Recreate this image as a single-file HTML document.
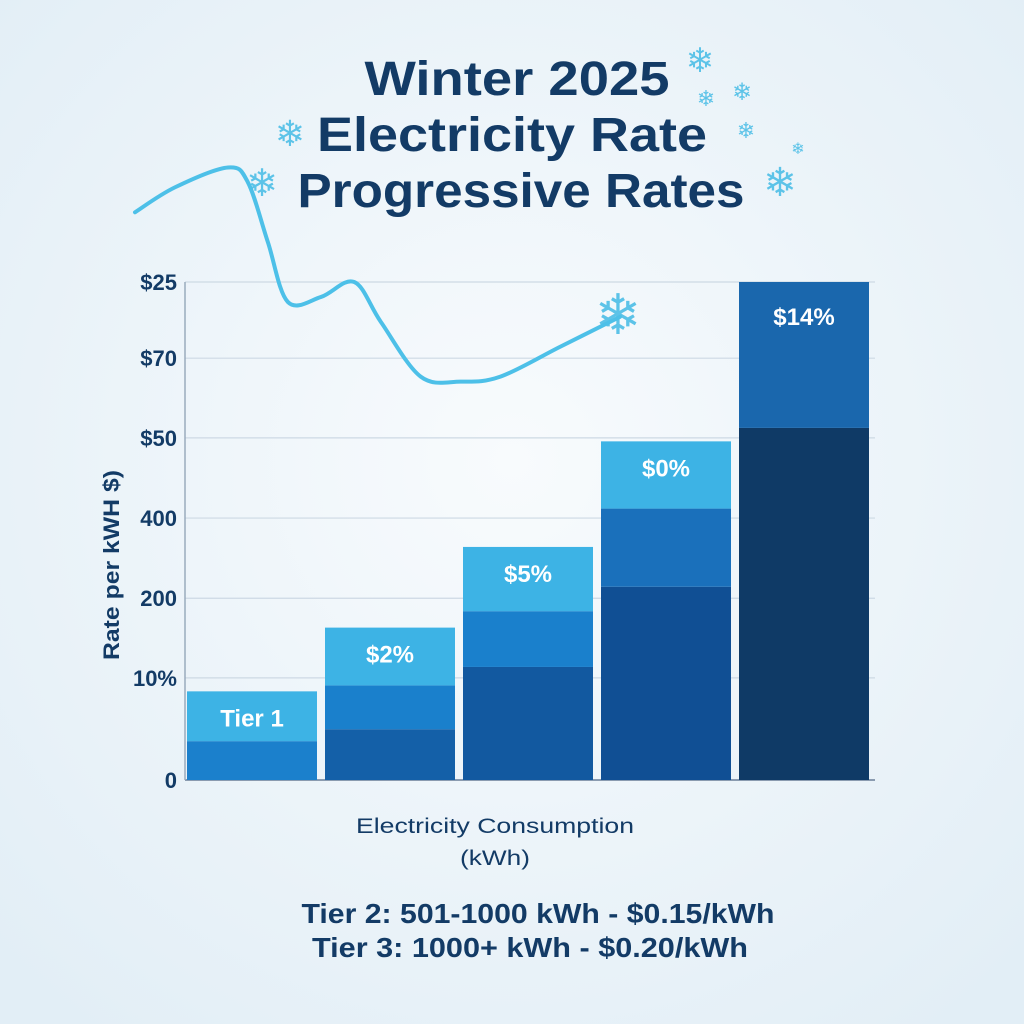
<!DOCTYPE html>
<html><head><meta charset="utf-8">
<style>
html,body{margin:0;padding:0;width:1024px;height:1024px;overflow:hidden;background:#eef5fa;}
svg{display:block;font-family:"Liberation Sans",sans-serif;}
</style></head>
<body>
<svg id="chart" width="1024" height="1024" viewBox="0 0 1024 1024">
<defs>
<radialGradient id="bg" cx="50%" cy="45%" r="70%">
<stop offset="0" stop-color="#f8fbfd"/><stop offset="1" stop-color="#e2eef6"/>
</radialGradient>
</defs>
<rect width="1024" height="1024" fill="url(#bg)"/>
<g id="title" font-weight="bold" font-size="48" fill="#133b66" text-anchor="middle">
<text x="517" y="95" textLength="305" lengthAdjust="spacingAndGlyphs">Winter 2025</text>
<text x="512" y="151" textLength="390" lengthAdjust="spacingAndGlyphs">Electricity Rate</text>
<text x="521" y="207" textLength="447" lengthAdjust="spacingAndGlyphs">Progressive Rates</text>
</g>
<g fill="#5cc3e8" font-size="34" text-anchor="middle">
<text x="700" y="72">❄</text>
<text x="706" y="106" font-size="22">❄</text>
<text x="742" y="100" font-size="24">❄</text>
<text x="746" y="138" font-size="22">❄</text>
<text x="798" y="154" font-size="16">❄</text>
<text x="780" y="196" font-size="40">❄</text>
<text x="290" y="146" font-size="36">❄</text>
<text x="262" y="196" font-size="38">❄</text>
<text x="618" y="334" font-size="56">❄</text>
</g>
<g id="grid"></g>
<g id="bars"></g>
<g id="line"></g>
<g id="yticks" font-weight="bold" font-size="22" fill="#133b66" text-anchor="end"></g>
<text x="0" y="0" transform="translate(119,565) rotate(-90)" text-anchor="middle" font-weight="bold" font-size="22" textLength="190" lengthAdjust="spacingAndGlyphs" fill="#133b66">Rate per kWH $)</text>
<text x="495" y="833" text-anchor="middle" font-size="21" textLength="278" lengthAdjust="spacingAndGlyphs" fill="#133b66">Electricity Consumption</text>
<text x="495" y="865" text-anchor="middle" font-size="21" textLength="70" lengthAdjust="spacingAndGlyphs" fill="#133b66">(kWh)</text>
<text x="538" y="923" text-anchor="middle" font-size="28" textLength="473" lengthAdjust="spacingAndGlyphs" font-weight="bold" fill="#133b66">Tier 2: 501-1000 kWh - $0.15/kWh</text>
<text x="530" y="957" text-anchor="middle" font-size="28" textLength="436" lengthAdjust="spacingAndGlyphs" font-weight="bold" fill="#133b66">Tier 3: 1000+ kWh - $0.20/kWh</text>
</svg>
<script>
const categories = ["Tier 1","Tier 2","Tier 3","Tier 4","Tier 5"];
const darkVals = [0, 10.2, 22.7, 38.8, 70.7];
const midVals = [7.8, 8.8, 11.2, 15.7, 29.3];
const lightVals = [10, 11.6, 12.9, 13.5, 0];
const barLabels = ["Tier 1","$2%","$5%","$0%","$14%"];
const tickVals = [0, 20.5, 36.5, 52.6, 68.7, 84.7, 100];
const tickLabels = ["0","10%","200","400","$50","$70","$25"];
const lineX = [0, 6, 14, 17, 20, 23, 28, 33, 37, 43, 49, 55, 64, 73];
const lineY = [114, 119, 123, 120, 108, 96, 97, 100, 92, 81, 80, 81, 87, 93];

const NS = "http://www.w3.org/2000/svg";
const plotL = 185, plotR = 875, baseY = 780, topY = 282;
const y = v => baseY - (v / 100) * (baseY - topY);
const bandW = (plotR - plotL) / categories.length;
const xBand = i => plotL + i * bandW + 2;
const barW = bandW - 8;
const lx = v => 135 + v * (620 - 135) / 73;
function mk(tag, attrs, parent){const e=document.createElementNS(NS,tag);for(const k in attrs)e.setAttribute(k,attrs[k]);parent.appendChild(e);return e;}

const grid = document.getElementById("grid");
const yt = document.getElementById("yticks");
tickVals.forEach((v,i)=>{
  const gl = mk("line",{x1:plotL,x2:plotR,y1:y(v),y2:y(v),stroke:i===0?"#8a9bb0":"#cdd9e4","stroke-width":i===0?2:1.2},grid);
  
  
  const t = mk("text",{x:177,y:y(v)+8},yt);
  t.textContent = tickLabels[i];
  
  
});
const ax = mk("line",{x1:plotL,x2:plotL,y1:topY,y2:baseY,stroke:"#9aabbd","stroke-width":1.5},grid);



const darkCols = ["#0f4f94","#1460a8","#1259a0","#104f94","#0f3a66"];
const midCols = ["#1b80cc","#1a80cc","#1a80cc","#1a70bb","#1a67ad"];
const bars = document.getElementById("bars");
categories.forEach((c,i)=>{
  const x = xBand(i);
  let acc = 0;
  [[darkVals[i],darkCols[i]],[midVals[i],midCols[i]],[lightVals[i],"#3db3e5"]].forEach(([v,col],k)=>{
    if(v<=0) return;
    const r = mk("rect",{x:x,y:y(acc+v),width:barW,height:y(acc)-y(acc+v),fill:col},bars);
    
    
    acc += v;
  });
  const tot = darkVals[i]+midVals[i]+lightVals[i];
  const t = mk("text",{x:x+barW/2,y:y(tot)+(i===4?43:35),"text-anchor":"middle","font-size":24,"font-weight":"bold",fill:"#ffffff"},bars);
  t.textContent = barLabels[i];
  
  
});

const lg = document.getElementById("line");
let d = "";
const pts = lineX.map((v,i)=>[lx(v), y(lineY[i])]);
pts.forEach((p,i)=>{
  if(i===0){d+="M"+p[0]+","+p[1];return;}
  const p0=pts[Math.max(0,i-2)],p1=pts[i-1],p2=p,p3=pts[Math.min(pts.length-1,i+1)];
  const c1=[p1[0]+(p2[0]-p0[0])/6,p1[1]+(p2[1]-p0[1])/6];
  const c2=[p2[0]-(p3[0]-p1[0])/6,p2[1]-(p3[1]-p1[1])/6];
  d+=" C"+c1+" "+c2+" "+p2;
});
const path = mk("path",{d:d,fill:"none",stroke:"#4dc0e8","stroke-width":4,"stroke-linecap":"round"},lg);


</script>
</body></html>
